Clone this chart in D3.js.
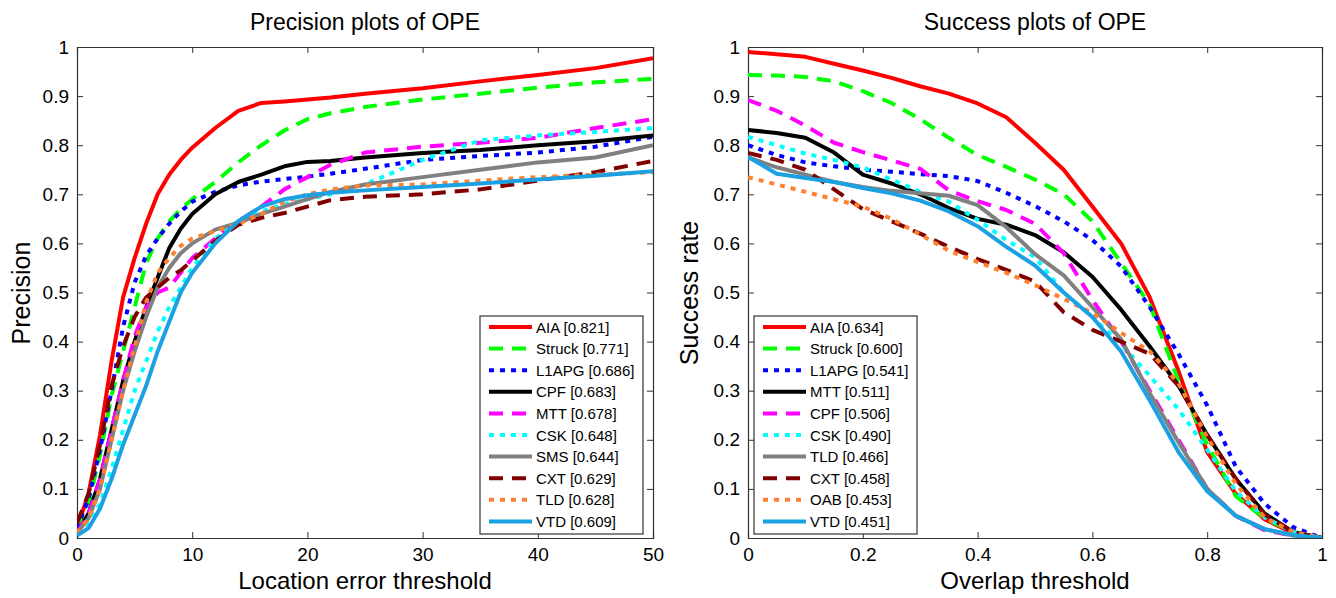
<!DOCTYPE html>
<html lang="en">
<head>
<meta charset="utf-8">
<script src="https://cdn.jsdelivr.net/npm/d3@7"></script>
<style>
  body { margin: 0; background: #fff; }
  svg text { font-family: "Liberation Sans", Arial, sans-serif; fill: #000; }
  .axis path, .axis line { stroke: #333; }
</style>
</head>
<body>
<div id="chart"></div>
<script>
// ---- data ----
var precX = [0,1,2,3,4,5,6,7,8,9,10,12,14,16,18,20,22,25,30,35,40,45,50];
var precNames = ["AIA [0.821]","Struck [0.771]","L1APG [0.686]","CPF [0.683]","MTT [0.678]","CSK [0.648]","SMS [0.644]","CXT [0.629]","TLD [0.628]","VTD [0.609]"];
var precAIA    = [0.02,0.09,0.21,0.36,0.49,0.57,0.64,0.70,0.74,0.77,0.795,0.835,0.87,0.886,0.889,0.893,0.897,0.905,0.916,0.93,0.943,0.957,0.977];
var precStruck = [0.02,0.07,0.17,0.29,0.38,0.47,0.56,0.61,0.645,0.67,0.69,0.725,0.765,0.80,0.83,0.853,0.865,0.878,0.893,0.905,0.917,0.928,0.935];
var precL1APG  = [0.02,0.08,0.18,0.30,0.43,0.52,0.575,0.61,0.64,0.665,0.685,0.705,0.718,0.726,0.731,0.736,0.742,0.752,0.77,0.778,0.785,0.797,0.817];
var precCPF    = [0.01,0.05,0.12,0.22,0.32,0.40,0.47,0.53,0.59,0.63,0.66,0.70,0.725,0.74,0.757,0.766,0.768,0.775,0.784,0.79,0.80,0.808,0.82];
var precMTT    = [0.01,0.05,0.12,0.22,0.32,0.41,0.47,0.50,0.51,0.54,0.57,0.61,0.645,0.675,0.71,0.735,0.76,0.785,0.797,0.805,0.815,0.835,0.853];
var precCSK    = [0.01,0.03,0.07,0.14,0.22,0.30,0.36,0.42,0.47,0.51,0.55,0.61,0.645,0.665,0.68,0.69,0.70,0.72,0.77,0.81,0.82,0.827,0.835];
var precSMS    = [0.01,0.04,0.10,0.20,0.30,0.38,0.45,0.51,0.55,0.58,0.60,0.628,0.642,0.66,0.675,0.69,0.705,0.72,0.735,0.75,0.765,0.775,0.80];
var precCXT    = [0.03,0.09,0.19,0.31,0.39,0.45,0.49,0.51,0.53,0.545,0.565,0.605,0.638,0.652,0.662,0.675,0.688,0.695,0.70,0.71,0.728,0.745,0.768];
var precTLD    = [0.01,0.04,0.10,0.20,0.30,0.39,0.48,0.54,0.57,0.595,0.61,0.625,0.64,0.66,0.685,0.70,0.71,0.718,0.72,0.728,0.735,0.74,0.745];
var precVTD    = [0.005,0.02,0.06,0.12,0.19,0.25,0.31,0.38,0.44,0.50,0.54,0.60,0.645,0.675,0.69,0.698,0.703,0.708,0.715,0.722,0.73,0.738,0.747];

var succX = [0,0.05,0.1,0.15,0.2,0.25,0.3,0.35,0.4,0.45,0.5,0.55,0.6,0.65,0.7,0.75,0.8,0.85,0.9,0.95,1.0];
var succNames = ["AIA [0.634]","Struck [0.600]","L1APG [0.541]","MTT [0.511]","CPF [0.506]","CSK [0.490]","TLD [0.466]","CXT [0.458]","OAB [0.453]","VTD [0.451]"];
var succAIA    = [0.99,0.985,0.98,0.966,0.952,0.937,0.92,0.905,0.885,0.857,0.805,0.75,0.675,0.60,0.49,0.34,0.175,0.09,0.038,0.01,0];
var succStruck = [0.943,0.942,0.939,0.93,0.91,0.886,0.853,0.815,0.78,0.756,0.73,0.70,0.645,0.56,0.475,0.32,0.19,0.085,0.04,0.012,0];
var succL1APG  = [0.80,0.78,0.765,0.757,0.75,0.746,0.741,0.737,0.727,0.703,0.676,0.645,0.607,0.553,0.47,0.375,0.27,0.145,0.07,0.022,0];
var succMTT    = [0.831,0.825,0.815,0.785,0.74,0.722,0.70,0.672,0.65,0.638,0.617,0.582,0.532,0.465,0.39,0.31,0.21,0.12,0.05,0.012,0];
var succCPF    = [0.892,0.87,0.84,0.805,0.786,0.769,0.752,0.708,0.686,0.668,0.64,0.58,0.485,0.40,0.30,0.20,0.10,0.045,0.016,0.005,0];
var succCSK    = [0.817,0.80,0.783,0.77,0.755,0.73,0.705,0.685,0.648,0.607,0.572,0.50,0.45,0.395,0.33,0.262,0.18,0.095,0.042,0.012,0];
var succTLD    = [0.775,0.755,0.74,0.725,0.715,0.707,0.702,0.697,0.678,0.633,0.578,0.535,0.47,0.405,0.295,0.195,0.10,0.045,0.018,0.005,0];
var succCXT    = [0.784,0.77,0.75,0.71,0.67,0.645,0.62,0.593,0.568,0.546,0.522,0.46,0.424,0.40,0.375,0.31,0.21,0.12,0.048,0.012,0];
var succOAB    = [0.735,0.72,0.705,0.69,0.675,0.65,0.618,0.585,0.562,0.54,0.515,0.487,0.458,0.418,0.38,0.315,0.205,0.11,0.042,0.012,0];
var succVTD    = [0.776,0.742,0.733,0.725,0.713,0.702,0.687,0.665,0.635,0.593,0.555,0.50,0.45,0.38,0.28,0.175,0.095,0.045,0.018,0.006,0];

var yTicks = [0,0.1,0.2,0.3,0.4,0.5,0.6,0.7,0.8,0.9,1];
var precTicks = [0,10,20,30,40,50];
var succTicks = [0,0.2,0.4,0.6,0.8,1];

// line styles, same order in both legends
var colors = ["#ff0000","#00ff00","#0000ff","#000000","#ff00ff","#00ffff","#808080","#800000","#ff8030","#1ba1e2"];
var dashes = [null,"14,9",  "5,6",   null,     "14,9",   "5,6",    null,     "14,9",   "5,6",    null];

var W = 1336, H = 598;
var svg = d3.select("#chart").append("svg").attr("width", W).attr("height", H);

function panel(opt) {
  var x = d3.scaleLinear().domain(opt.xDomain).range([opt.left, opt.right]);
  var y = d3.scaleLinear().domain([0, 1]).range([538, 47]);
  var g = svg.append("g");

  var clipId = "clip" + opt.id;
  g.append("clipPath").attr("id", clipId).append("rect")
    .attr("x", opt.left).attr("y", 47).attr("width", opt.right - opt.left).attr("height", 491);

  // box + inward ticks on all sides
  g.append("g").attr("class", "axis").attr("transform", "translate(0,538)")
    .call(d3.axisBottom(x).tickValues(opt.xTicks).tickSize(-6).tickPadding(10).tickFormat(opt.fmt))
    .call(s => s.selectAll("text").style("font-size", "19px"));
  g.append("g").attr("class", "axis").attr("transform", "translate(0,47)")
    .call(d3.axisTop(x).tickValues(opt.xTicks).tickSize(-6).tickFormat(""));
  g.append("g").attr("class", "axis").attr("transform", "translate(" + opt.left + ",0)")
    .call(d3.axisLeft(y).tickValues(yTicks).tickSize(-6).tickPadding(8).tickFormat(d3.format("~g")))
    .call(s => s.selectAll("text").style("font-size", "19px"));
  g.append("g").attr("class", "axis").attr("transform", "translate(" + opt.right + ",0)")
    .call(d3.axisRight(y).tickValues(yTicks).tickSize(-6).tickFormat(""));
  g.selectAll(".axis path").attr("stroke-width", 1.2);

  var line = d3.line().x((d, i) => x(opt.xs[i])).y(d => y(d));
  g.append("g").attr("clip-path", "url(#" + clipId + ")")
    .selectAll("path.curve").data(opt.series).enter().append("path")
    .attr("class", "curve")
    .attr("d", d => line(d))
    .attr("fill", "none")
    .attr("stroke", (d, i) => colors[i])
    .attr("stroke-width", 4)
    .attr("stroke-linejoin", "round")
    .attr("stroke-dasharray", (d, i) => dashes[i]);

  // title and labels
  var cx = (opt.left + opt.right) / 2;
  g.append("text").attr("x", cx).attr("y", 30).attr("text-anchor", "middle")
    .style("font-size", "23px").text(opt.title);
  g.append("text").attr("x", cx).attr("y", 589).attr("text-anchor", "middle")
    .style("font-size", "24px").text(opt.xLabel);
  g.append("text").attr("transform", "translate(" + opt.yLabelX + ",293) rotate(-90)")
    .attr("text-anchor", "middle").style("font-size", "25px").text(opt.yLabel);

  // legend
  var lg = g.append("g").attr("transform", "translate(" + opt.legX + ",316)");
  lg.append("rect").attr("width", opt.legW).attr("height", 218)
    .attr("fill", "#fff").attr("stroke", "#333").attr("stroke-width", 1.2);
  var row = lg.selectAll("g.row").data(opt.names).enter().append("g")
    .attr("transform", (d, i) => "translate(0," + (11 + i * 21.6) + ")");
  row.append("line").attr("x1", 9).attr("x2", 52).attr("y1", 0).attr("y2", 0)
    .attr("stroke", (d, i) => colors[i]).attr("stroke-width", 4)
    .attr("stroke-dasharray", (d, i) => dashes[i]);
  row.append("text").attr("x", 56).attr("y", 5.5).style("font-size", "15px").text(d => d);
}

panel({
  id: 1, left: 77, right: 653, xDomain: [0, 50], xTicks: precTicks, fmt: d3.format("d"),
  xs: precX,
  series: [precAIA, precStruck, precL1APG, precCPF, precMTT, precCSK, precSMS, precCXT, precTLD, precVTD],
  names: precNames,
  title: "Precision plots of OPE", xLabel: "Location error threshold", yLabel: "Precision", yLabelX: 30,
  legX: 480, legW: 163
});

panel({
  id: 2, left: 748, right: 1322, xDomain: [0, 1], xTicks: succTicks, fmt: d3.format("~g"),
  xs: succX,
  series: [succAIA, succStruck, succL1APG, succMTT, succCPF, succCSK, succTLD, succCXT, succOAB, succVTD],
  names: succNames,
  title: "Success plots of OPE", xLabel: "Overlap threshold", yLabel: "Success rate", yLabelX: 698,
  legX: 754, legW: 163
});
</script>
</body>
</html>
